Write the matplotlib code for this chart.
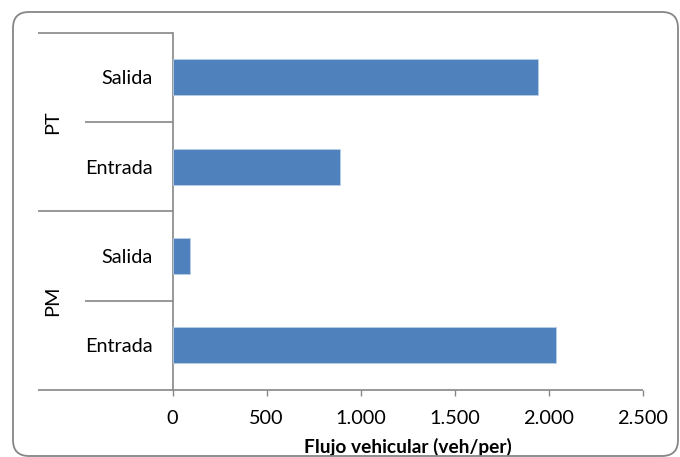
import matplotlib
matplotlib.use("Agg")
import matplotlib.pyplot as plt
from matplotlib.patches import FancyBboxPatch
from matplotlib.ticker import FuncFormatter, MultipleLocator
import matplotlib.transforms as mtransforms

plt.rcParams['font.family'] = ['Lato', 'DejaVu Sans']

# Vehicle flow by period and direction (bottom to top)
periods = ["PM", "PT"]
directions = ["Entrada", "Salida"]
row_labels = ["Entrada", "Salida", "Entrada", "Salida"]
flow_values = [2038, 94, 890, 1945]

bar_color = "#4F81BD"
axis_color = "#868686"
W, H, DPI = 680, 457, 100
LABEL_SIZE = 14.3

fig = plt.figure(figsize=(W / DPI, H / DPI), dpi=DPI)
fig.patch.set_facecolor("white")

# plot area in pixel terms
x0, x1 = 172.6, 642.5
y_top, y_bot = 32.7, 390.0
ax = fig.add_axes([x0 / W, 1 - y_bot / H, (x1 - x0) / W, (y_bot - y_top) / H])

pos = list(range(len(flow_values)))
ax.barh(pos, flow_values, height=0.4, color=bar_color,
        edgecolor="#b9cde5", linewidth=0.6, zorder=3)

ax.set_xlim(0, 2500)
ax.set_ylim(-0.5, len(flow_values) - 0.5)
ax.xaxis.set_major_locator(MultipleLocator(500))
ax.xaxis.set_major_formatter(FuncFormatter(lambda v, p: f"{int(v):,}".replace(",", ".")))

ax.set_yticks(pos)
ax.set_yticklabels(row_labels)
ax.tick_params(axis="y", length=0, pad=14.5, labelsize=LABEL_SIZE)
ax.tick_params(axis="x", direction="out", length=4.3, width=1, color=axis_color,
               pad=10, labelsize=LABEL_SIZE)

for s in ["top", "right", "bottom"]:
    ax.spines[s].set_visible(False)
ax.spines["left"].set_color(axis_color)
ax.spines["left"].set_linewidth(1.2)

ax.set_xlabel("Flujo vehicular (veh/per)", fontweight="bold", fontsize=13.8, labelpad=8)

# category separators in the label area
trans = mtransforms.blended_transform_factory(ax.transAxes, ax.transData)
outer_x = (38 - x0) / (x1 - x0)
inner_x = (85 - x0) / (x1 - x0)
n = len(flow_values)
for b in [-0.5 + k for k in range(n + 1)]:
    group_edge = (b + 0.5) % len(directions) == 0
    start = outer_x if group_edge else inner_x
    end = 1.0 if b == -0.5 else 0.0
    ax.plot([start, end], [b, b], transform=trans, color=axis_color,
            lw=1.2, clip_on=False, solid_capstyle="butt", zorder=4)

# group labels
gx = (53 - x0) / (x1 - x0)
for i, name in enumerate(periods):
    center = i * len(directions) + (len(directions) - 1) / 2
    ax.text(gx, center, name, transform=trans, rotation=90,
            ha="center", va="center", fontsize=LABEL_SIZE)

# rounded outer frame
frame = FancyBboxPatch((13, H - 456), 678 - 13, 456 - 12,
                       boxstyle="round,pad=0,rounding_size=16",
                       transform=None, facecolor="none",
                       edgecolor=axis_color, linewidth=1.3, zorder=0)
fig.patches.append(frame)

fig.savefig("out.png", dpi=DPI, facecolor="white")
